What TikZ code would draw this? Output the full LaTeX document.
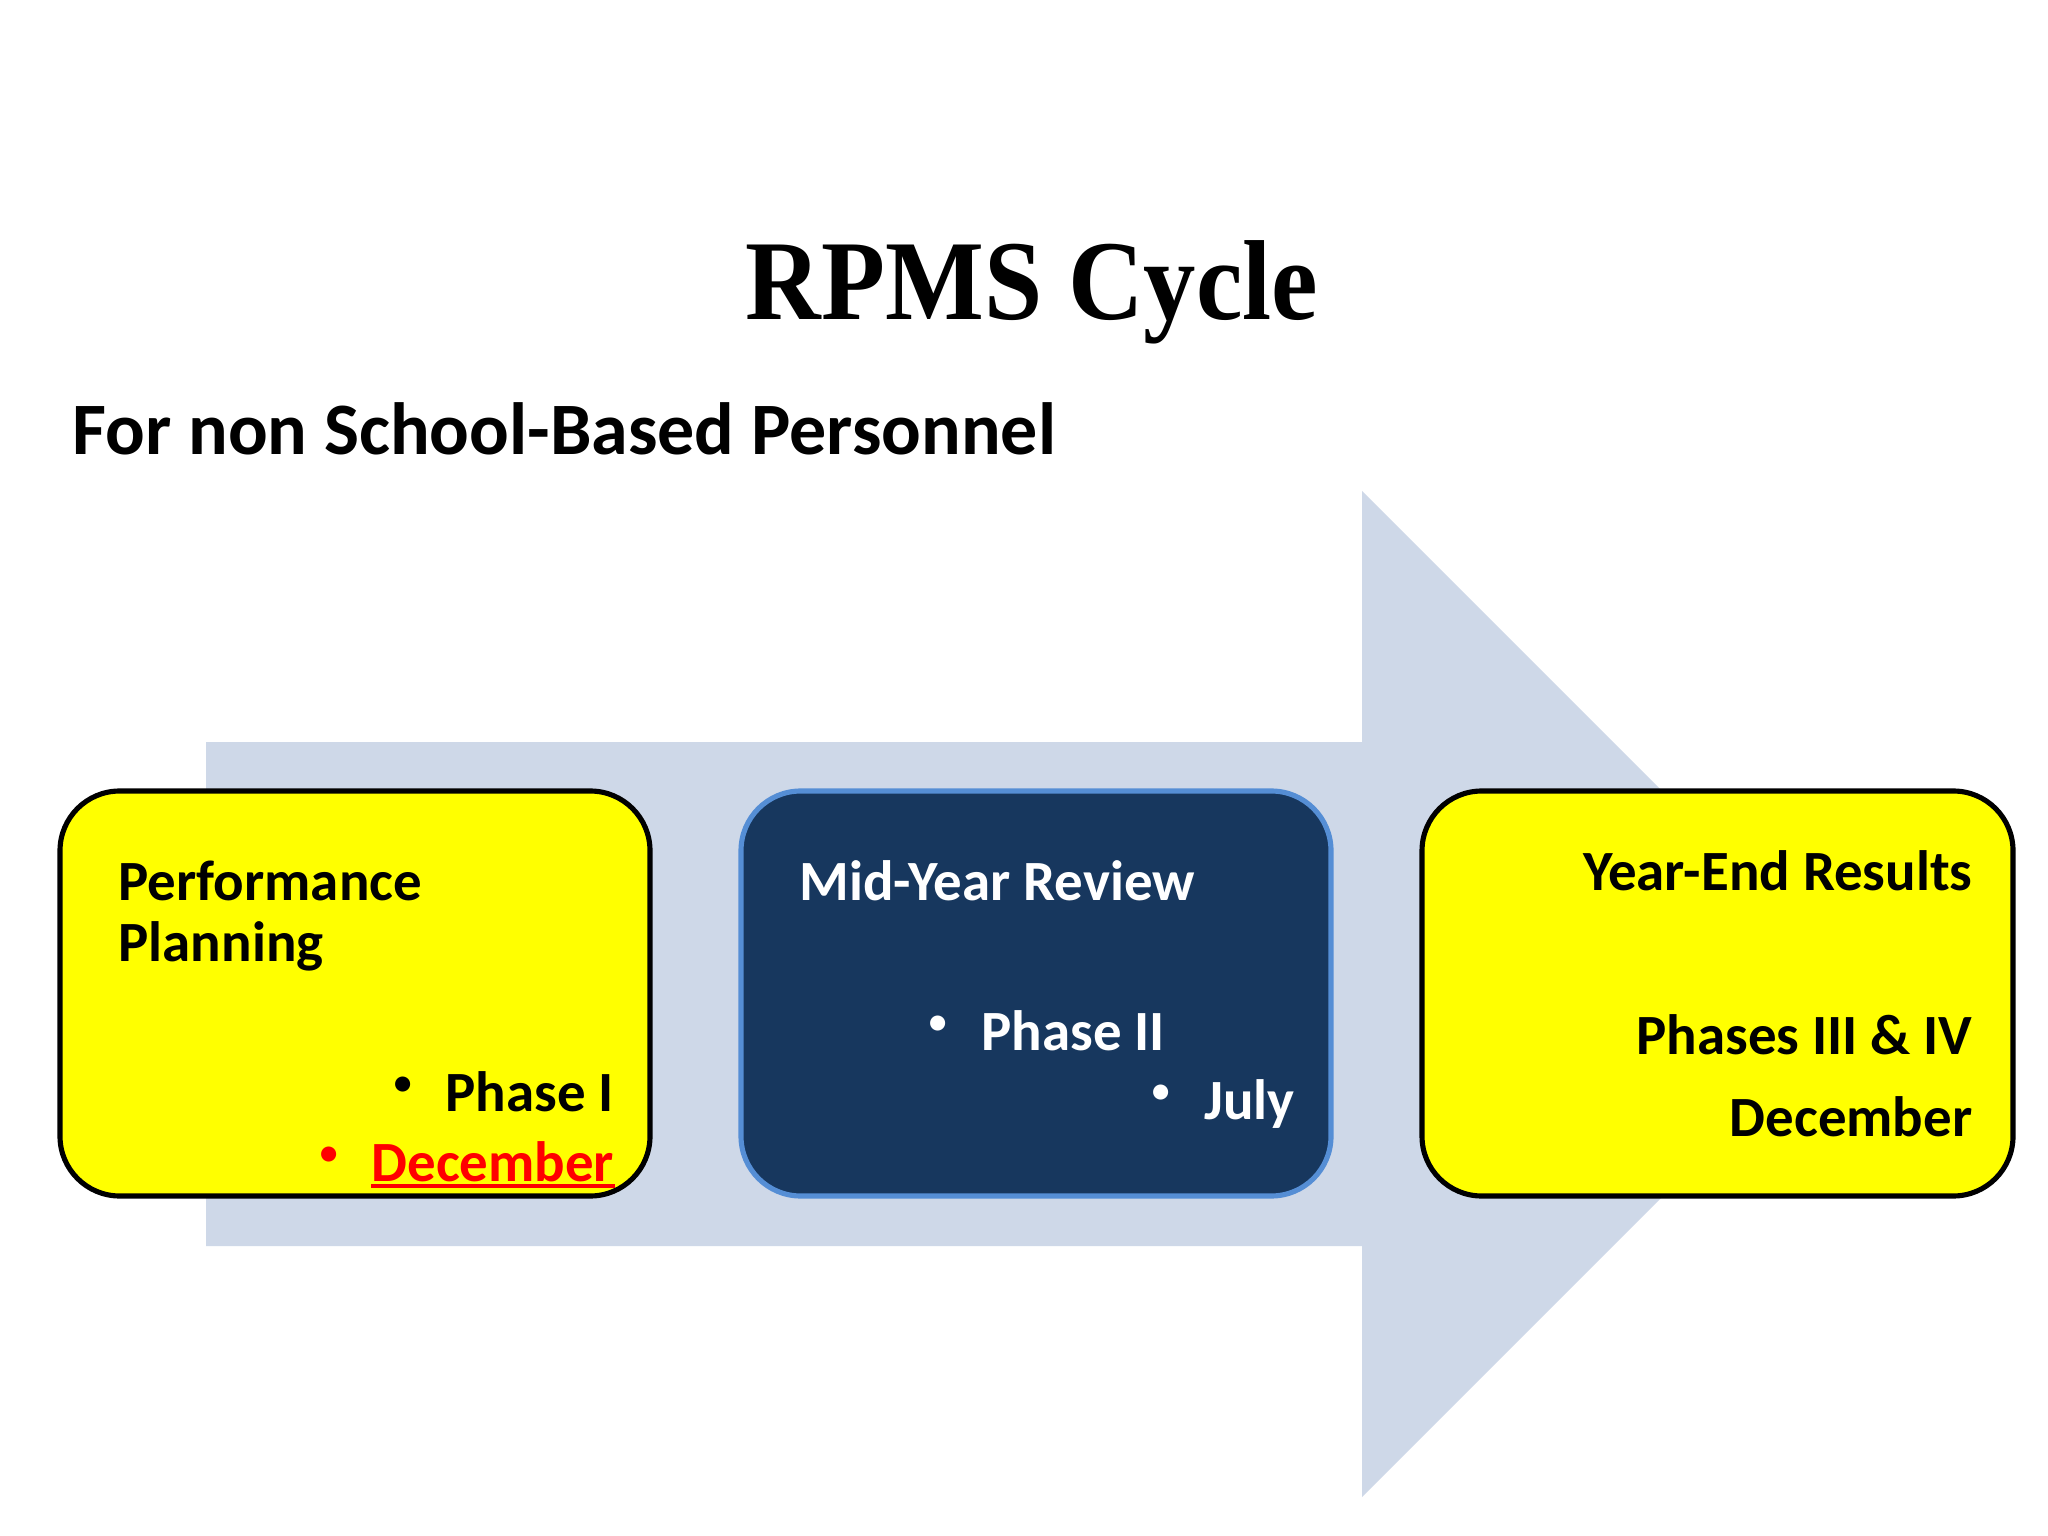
\documentclass[tikz,border=0pt]{standalone}
\usepackage{fontspec}
\usepackage{graphicx}
\setmainfont{Carlito}
\newfontfamily\titlefont{Liberation Serif}
\usetikzlibrary{fit}
\definecolor{arrowfill}{RGB}{206,216,232}
\definecolor{navy}{RGB}{23,55,94}
\definecolor{midborder}{RGB}{85,142,213}
\definecolor{pyellow}{RGB}{255,255,0}
\definecolor{pred}{RGB}{255,0,0}
\newcommand{\bul}{\fontsize{15}{18}\selectfont\raisebox{5pt}{•}}
\begin{document}
\begin{tikzpicture}[x=0.3515625pt,y=-0.3515625pt,
  ybox/.style={draw=black, line width=1.8pt, fill=pyellow, rounded corners=21pt, inner sep=0pt},
  nbox/.style={draw=midborder, line width=1.8pt, fill=navy, rounded corners=21pt, inner sep=0pt},
  btxt/.style={font=\bfseries\fontsize{20}{24}\selectfont, inner sep=0pt},
  lt/.style={btxt, anchor=base west},
  rt/.style={btxt, anchor=base east},
  bt/.style={inner sep=0pt, anchor=base}]
\useasboundingbox[fill=white] (0,0) rectangle (2048,1536);
% big arrow
\fill[arrowfill] (206,742) -- (1362,742) -- (1362,491) -- (1865,994) -- (1362,1497) -- (1362,1246) -- (206,1246) -- cycle;
% title
\node[anchor=base, inner sep=0pt, font=\titlefont\bfseries\fontsize{40}{48}\selectfont] (title) at (1032,320) {\scalebox{0.92}[1]{RPMS Cycle}};
\node[anchor=base west, inner sep=0pt, font=\bfseries\fontsize{26}{32}\selectfont] (sub) at (72,455) {For non School-Based Personnel};
% boxes
\node[ybox, fit={(60,791)(650,1196)}] (pp) {};
\node[nbox, fit={(741,791)(1331,1196)}] (mr) {};
\node[ybox, fit={(1422,791)(2013,1196)}] (ye) {};
% left box text
\node[lt] (pp1) at (118,900) {Performance};
\node[lt] (pp2) at (118,961) {Planning};
\node[bt] (ppb1) at (403,1111) {\bul};
\node[lt] (pp3) at (445,1111) {Phase I};
\node[bt, text=pred] (ppb2) at (329,1181) {\bul};
\node[lt, text=pred] (pp4) at (371,1181) {December};
\draw[pred, line width=1.4pt] ([yshift=-1.8pt]pp4.base west) -- ([yshift=-1.8pt]pp4.base east);
% middle box text
\node[lt, text=white] (mr1) at (799,900) {Mid-Year Review};
\node[bt, text=white] (mrb1) at (938,1050) {\bul};
\node[lt, text=white] (mr2) at (981,1050) {Phase II};
\node[bt, text=white] (mrb2) at (1161,1119) {\bul};
\node[lt, text=white] (mr3) at (1204,1119) {July};
% right box text
\node[rt] (ye1) at (1973,890) {Year-End Results};
\node[rt] (ye2) at (1973,1054) {Phases III \& IV};
\node[rt] (ye3) at (1973,1136) {December};
\end{tikzpicture}
\end{document}
